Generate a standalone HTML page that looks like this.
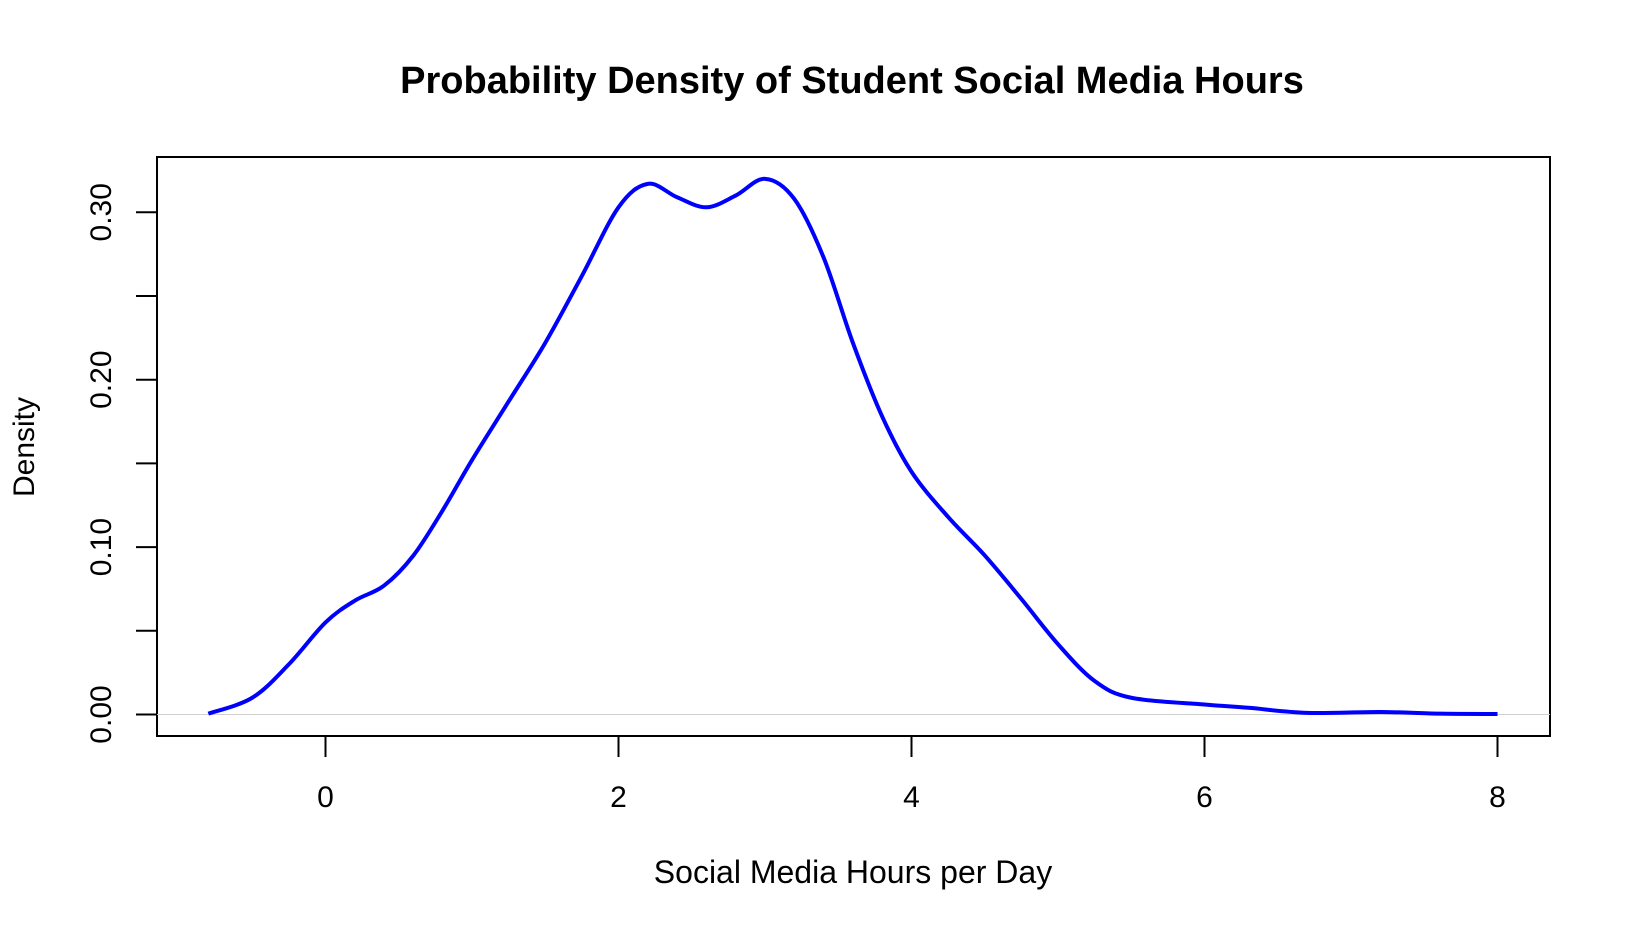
<!DOCTYPE html>
<html><head><meta charset="utf-8"><style>
body{margin:0;background:#fff;}
svg{display:block;font-family:"Liberation Sans",Arial,sans-serif;}
</style></head><body>
<svg id="chart" width="1630" height="932">
<text x="852" y="93" text-anchor="middle" font-size="38" font-weight="bold">Probability Density of Student Social Media Hours</text>
<rect x="157" y="157" width="1393" height="579" fill="none" stroke="#000" stroke-width="2"/>
<text x="853" y="883" text-anchor="middle" font-size="32">Social Media Hours per Day</text>
<text transform="translate(34,447) rotate(-90)" text-anchor="middle" font-size="30">Density</text>
<g id="xaxis"></g><g id="yaxis"></g><g id="plot"></g>
</svg>
<script>
const xTicks=[0,2,4,6,8];
const yTicks=[0,0.05,0.10,0.15,0.20,0.25,0.30];
const yTickLabels=["0.00","","0.10","","0.20","","0.30"];
const xs=[-0.8,-0.5,-0.25,0,0.2,0.4,0.6,0.8,1.0,1.25,1.5,1.75,2.0,2.2,2.4,2.6,2.8,3.0,3.2,3.4,3.6,3.8,4.0,4.25,4.5,4.75,5.0,5.25,5.5,6.0,6.3,6.7,7.2,7.6,8.0];
const ys=[0.0005,0.01,0.03,0.055,0.068,0.077,0.095,0.122,0.152,0.187,0.222,0.262,0.303,0.317,0.309,0.303,0.31,0.32,0.308,0.273,0.222,0.178,0.145,0.118,0.095,0.069,0.042,0.02,0.01,0.006,0.004,0.001,0.0015,0.0005,0.0003];
const X=v=>325.5+v*146.5, Y=v=>714.5-v*1674;
const NS="http://www.w3.org/2000/svg";
function mk(t,a,p){const e=document.createElementNS(NS,t);for(const k in a)e.setAttribute(k,a[k]);p.appendChild(e);return e;}
const xa=document.getElementById('xaxis'),ya=document.getElementById('yaxis'),pl=document.getElementById('plot');
mk('line',{x1:X(xTicks[0]),x2:X(xTicks[xTicks.length-1]),y1:736,y2:736,stroke:'#000','stroke-width':2},xa);
xTicks.forEach(t=>{
 const l=mk('line',{x1:X(t),x2:X(t),y1:736,y2:757,stroke:'#000','stroke-width':2},xa);
 
 
 const tx=mk('text',{x:X(t),y:807,'text-anchor':'middle','font-size':30},xa);tx.textContent=t;
 
 
});
mk('line',{x1:157,x2:157,y1:Y(0),y2:Y(0.30),stroke:'#000','stroke-width':2},ya);
yTicks.forEach((t,i)=>{
 const l=mk('line',{x1:136,x2:157,y1:Y(t),y2:Y(t),stroke:'#000','stroke-width':2},ya);
 
 
 if(yTickLabels[i]){const tx=mk('text',{transform:`translate(111,${Y(t)}) rotate(-90)`,'text-anchor':'middle','font-size':30},ya);tx.textContent=yTickLabels[i];
 
 }
});
const zl=mk('line',{x1:157,x2:1550,y1:Y(0),y2:Y(0),stroke:'#d0d0d0','stroke-width':1},pl);


const P=xs.map((x,i)=>[X(x),Y(ys[i])]);
let d=`M${P[0][0]},${P[0][1]}`;
for(let i=0;i<P.length-1;i++){const p0=P[Math.max(0,i-1)],p1=P[i],p2=P[i+1],p3=P[Math.min(P.length-1,i+2)];
 d+=` C${p1[0]+(p2[0]-p0[0])/6},${p1[1]+(p2[1]-p0[1])/6} ${p2[0]-(p3[0]-p1[0])/6},${p2[1]-(p3[1]-p1[1])/6} ${p2[0]},${p2[1]}`;}
const path=mk('path',{d:d,fill:'none',stroke:'#0000ff','stroke-width':4,'stroke-linejoin':'round'},pl);


</script>
</body></html>
